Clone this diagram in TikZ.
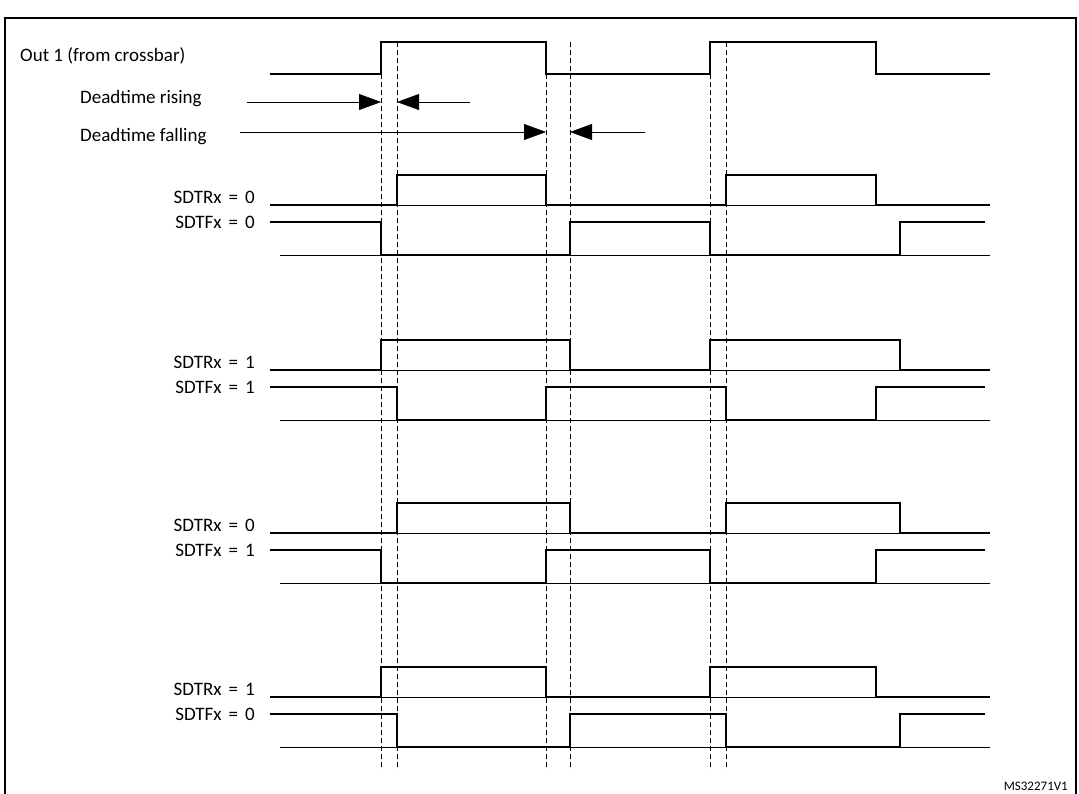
\documentclass[tikz,border=0pt]{standalone}
\usepackage{fontspec}
\setmainfont{Carlito}
\usetikzlibrary{arrows.meta}
\tikzset{
    wave/.style = {line width=2.4pt, line join=miter},
    base-line/.style = {thin},
    dead-line/.style = {thin, dash pattern=on 5pt off 3pt},
    sig-label/.style = {anchor=east, font=\fontsize{19}{22}\selectfont, inner sep=0pt},
    dt-arrow/.style = {thin, -{Triangle[length=22pt, width=16pt]}},
}
\newcommand{\sigval}[2]{#1\hspace{7pt}=\hspace{7pt}#2}
\begin{document}
\begin{tikzpicture}[x=1pt, y=-1pt]
\useasboundingbox (0,0) rectangle (1079,793);
\draw[line width=1.5pt] (5,18) rectangle (1076,800);
% dashed guides
\foreach \xg in {381,397,546,570,710,726}
    \draw[dead-line] (\xg,42) -- (\xg,770);
% out 1
\node[sig-label, anchor=west] (out) at (20,56) {Out 1 (from crossbar)};
\draw[wave] (270,74) -- (381,74) -- (381,42) -- (546,42) -- (546,74) -- (710,74) -- (710,42) -- (876,42) -- (876,74) -- (990,74);
% deadtime arrows
\node[sig-label, anchor=west] (dtr) at (80,99) {Deadtime rising};
\node[sig-label, anchor=west] (dtf) at (80,137) {Deadtime falling};
\coordinate (r1) at (247,102); \coordinate (r2) at (381,102);
\coordinate (r3) at (470,102); \coordinate (r4) at (397,102);
\coordinate (f1) at (240,132); \coordinate (f2) at (546,132);
\coordinate (f3) at (645,132); \coordinate (f4) at (570,132);
\draw[dt-arrow] (r1) -- (r2);
\draw[dt-arrow] (r3) -- (r4);
\draw[dt-arrow] (f1) -- (f2);
\draw[dt-arrow] (f3) -- (f4);
% signal pairs: row / y / R / F / R edges / F edges
\foreach \row/\yy/\rv/\fv/\ra/\rb/\rc/\rd/\fa/\fb/\fc/\fd in {
    1/205/0/0/397/546/726/876/381/570/710/900,
    2/370/1/1/381/570/710/900/397/546/726/876,
    3/533/0/1/397/570/726/900/381/546/710/876,
    4/697/1/0/381/546/710/876/397/570/726/900}{
    \pgfmathsetmacro{\rh}{\yy-30}
    \pgfmathsetmacro{\fh}{\yy+17}
    \pgfmathsetmacro{\fl}{\yy+50}
    \node[sig-label] (sdtr\row) at (255,\yy-8) {\sigval{SDTRx}{\rv}};
    \node[sig-label] (sdtf\row) at (255,\fh) {\sigval{SDTFx}{\fv}};
    \draw[base-line] (270,\yy) -- (990,\yy);
    \draw[base-line] (280,\fl) -- (990,\fl);
    \draw[wave] (270,\yy) -- (\ra,\yy) -- (\ra,\rh) -- (\rb,\rh) -- (\rb,\yy) -- (\rc,\yy) -- (\rc,\rh) -- (\rd,\rh) -- (\rd,\yy) -- (990,\yy);
    \draw[wave] (270,\fh) -- (\fa,\fh) -- (\fa,\fl) -- (\fb,\fl) -- (\fb,\fh) -- (\fc,\fh) -- (\fc,\fl) -- (\fd,\fl) -- (\fd,\fh) -- (985,\fh);
}
\node[font=\fontsize{13}{15}\selectfont, anchor=east, inner sep=0pt] (code) at (1068,786) {MS32271V1};
\end{tikzpicture}
\end{document}
